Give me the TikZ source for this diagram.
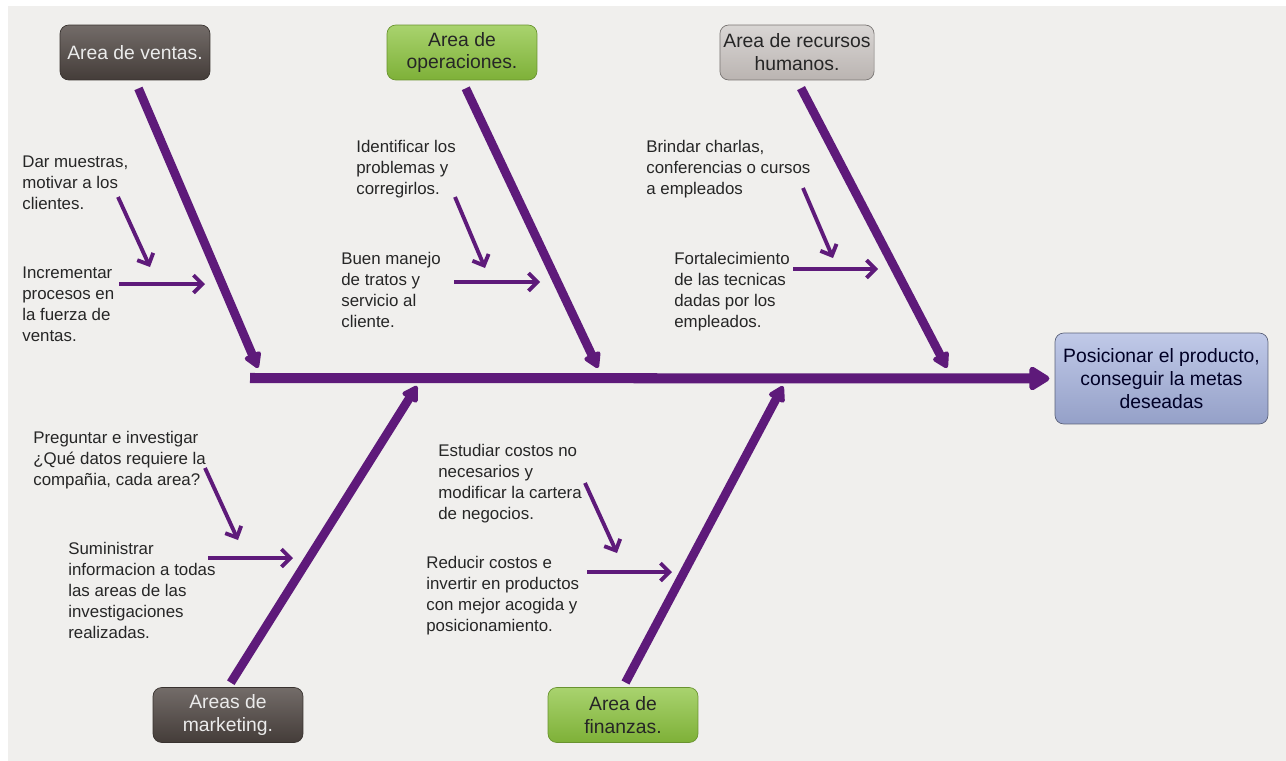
\documentclass[tikz,border=0pt]{standalone}
\usepackage{fontspec}
\setmainfont{Liberation Sans}
\usepackage{xcolor}
\usetikzlibrary{arrows.meta}

\definecolor{bonecol}{RGB}{94,26,122}
\definecolor{paper}{RGB}{240,239,237}
\definecolor{darkbox}{RGB}{80,71,67}
\definecolor{greenbox}{RGB}{140,196,62}
\definecolor{graybox}{RGB}{186,180,177}
\definecolor{goalbox}{RGB}{165,178,222}

\begin{document}
\begin{tikzpicture}[x=0.02cm, y=-0.02cm,
  area/.style={rounded corners=5pt, minimum width=3cm, minimum height=1.1cm,
               align=center, inner sep=2pt, font=\fontsize{11}{13}\selectfont},
  darkarea/.style={area, draw=darkbox!70!black, top color=darkbox!80!white,
                   bottom color=darkbox!85!black, text=white!92!black},
  greenarea/.style={area, draw=greenbox!75!black, top color=greenbox!75!white,
                    bottom color=greenbox!90!black, text=black!85},
  grayarea/.style={area, draw=graybox!65!black, top color=graybox!55!white,
                   bottom color=graybox, text=black!85},
  goal/.style={area, draw=goalbox!55!black, top color=goalbox!70!white,
               bottom color=goalbox!90!black, minimum width=4.26cm,
               minimum height=1.82cm, text=black!85!blue},
  spine/.style={line width=5.7pt, bonecol, -{Triangle[length=13pt,width=15pt,round]}},
  bone/.style={line width=5pt, bonecol, -{Triangle[length=10pt,width=11pt,round]}},
  sub/.style={line width=2.2pt, bonecol, -{Straight Barb[length=5pt,width=10pt]}},
  note/.style={anchor=north west, inner sep=0pt, align=left,
               font=\fontsize{9.6}{11.9}\selectfont, text=black!85}
]
  \useasboundingbox (0,0) rectangle (1286,761);
  \fill[paper] (8,6) rectangle (1286,761);

  % Effect
  \node[goal] (goal) at (1161.5,378.5) {Posicionar el producto,\\conseguir la metas\\deseadas};
  \coordinate (tail) at (250,378);
  \draw[spine, shorten >=3pt] (tail) -- (goal.west);

  % Causes on top
  \node[darkarea]  (ventas) at (135,52.5) {Area de ventas.};
  \node[greenarea] (oper)   at (462,52.5) {Area de\\operaciones.};
  \node[grayarea]  (rrhh)   at (797,52.5) {Area de recursos\\humanos.};

  % Causes below
  \node[darkarea]  (mkt) at (228,715) {Areas de\\marketing.};
  \node[greenarea] (fin) at (623,715) {Area de\\finanzas.};

  % Points on the spine
  \coordinate (sv) at (258,368);
  \coordinate (so) at (598,368);
  \coordinate (sr) at (947,368);
  \coordinate (sm) at (417,386);
  \coordinate (sf) at (783,386);

  \draw[bone, shorten <=5pt] (ventas.south) -- (sv);
  \draw[bone, shorten <=5pt] (oper.south) -- (so);
  \draw[bone, shorten <=5pt] (rrhh.south) -- (sr);
  \draw[bone, shorten <=3pt] (mkt.north) -- (sm);
  \draw[bone, shorten <=3pt] (fin.north) -- (sf);

  % Sub-causes: ventas
  \node[note] (n1) at (22,156) {Dar muestras,\\motivar a los\\clientes.};
  \node[note] (n2) at (22,267) {Incrementar\\procesos en\\la fuerza de\\ventas.};
  \coordinate (v1a) at (118,197); \coordinate (v1b) at (150,267);
  \coordinate (v2a) at (119,284); \coordinate (v2b) at (205,284);
  \draw[sub] (v1a) -- (v1b);
  \draw[sub] (v2a) -- (v2b);

  % Sub-causes: operaciones
  \node[note] (n3) at (356,140) {Identificar los\\problemas y\\corregirlos.};
  \node[note] (n4) at (341,252) {Buen manejo\\de tratos y\\servicio al\\cliente.};
  \coordinate (o1a) at (455,197); \coordinate (o1b) at (485,268);
  \coordinate (o2a) at (454,282); \coordinate (o2b) at (540,282);
  \draw[sub] (o1a) -- (o1b);
  \draw[sub] (o2a) -- (o2b);

  % Sub-causes: recursos humanos
  \node[note] (n5) at (646,140) {Brindar charlas,\\conferencias o cursos\\a empleados};
  \node[note] (n6) at (674,252) {Fortalecimiento\\de las tecnicas\\dadas por los\\empleados.};
  \coordinate (r1a) at (803,188); \coordinate (r1b) at (833,258);
  \coordinate (r2a) at (793,269); \coordinate (r2b) at (878,269);
  \draw[sub] (r1a) -- (r1b);
  \draw[sub] (r2a) -- (r2b);

  % Sub-causes: marketing
  \node[note] (n7) at (33,431) {Preguntar e investigar\\¿Qué datos requiere la\\compañia, cada area?};
  \node[note] (n8) at (68,542) {Suministrar\\informacion a todas\\las areas de las\\investigaciones\\realizadas.};
  \coordinate (m1a) at (205,468); \coordinate (m1b) at (238,540);
  \coordinate (m2a) at (208,558); \coordinate (m2b) at (293,558);
  \draw[sub] (m1a) -- (m1b);
  \draw[sub] (m2a) -- (m2b);

  % Sub-causes: finanzas
  \node[note] (n9)  at (438,444) {Estudiar costos no\\necesarios y\\modificar la cartera\\de negocios.};
  \node[note] (n10) at (426,556) {Reducir costos e\\invertir en productos\\con mejor acogida y\\posicionamiento.};
  \coordinate (f1a) at (585,483); \coordinate (f1b) at (617,553);
  \coordinate (f2a) at (587,572); \coordinate (f2b) at (672,572);
  \draw[sub] (f1a) -- (f1b);
  \draw[sub] (f2a) -- (f2b);
\end{tikzpicture}
\end{document}
